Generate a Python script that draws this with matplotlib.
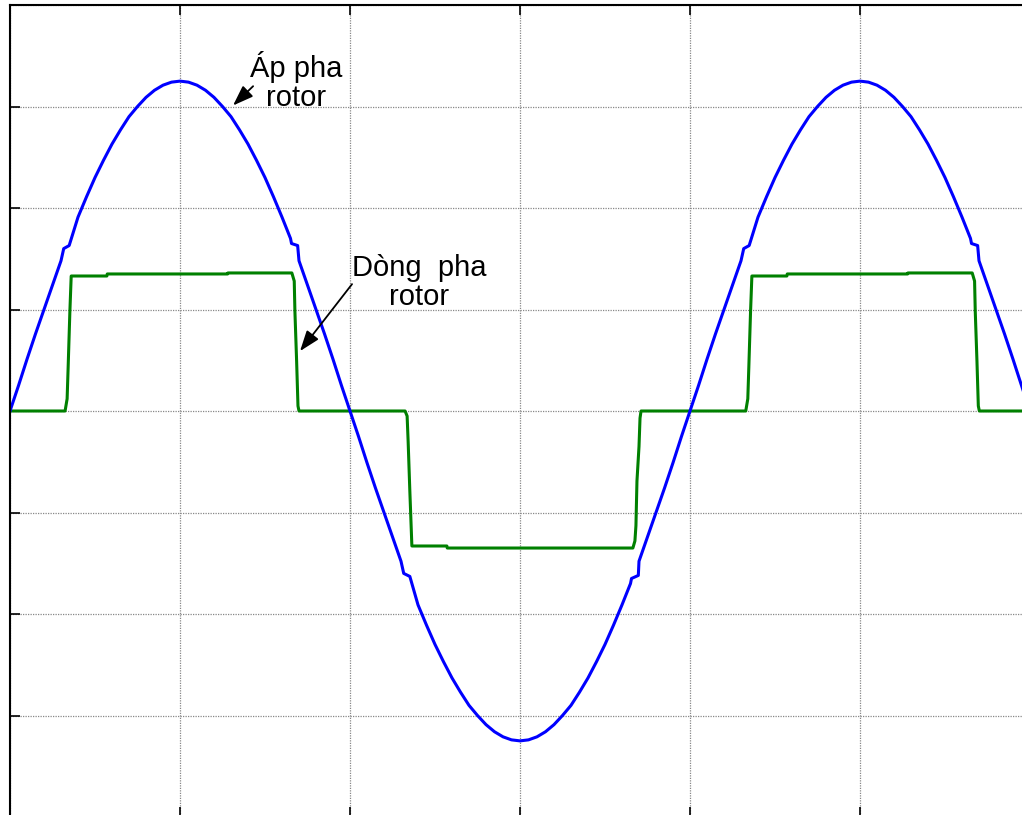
import matplotlib
matplotlib.use("Agg")
import matplotlib.pyplot as plt
from matplotlib.patches import ArrowStyle

# time in ms, values in grid divisions
blue_t = [0, 0.25, 0.5, 0.75, 1.0, 1.25, 1.5, 1.58, 1.74, 2.0, 2.25, 2.5, 2.75, 3.0, 3.25, 3.5,
          3.75, 4.0, 4.25, 4.5, 4.75, 5.0, 5.25, 5.5, 5.75, 6.0, 6.25, 6.5, 6.75, 7.0, 7.25,
          7.5, 7.75, 8.0, 8.25, 8.28, 8.46, 8.5, 8.75, 9.0, 9.25, 9.5, 9.75,
          10.0, 10.25, 10.5, 10.75, 11.0, 11.25, 11.5, 11.58, 11.76, 12.0, 12.25, 12.5, 12.75,
          13.0, 13.25, 13.5, 13.75, 14.0, 14.25, 14.5, 14.75, 15.0, 15.25, 15.5, 15.75, 16.0,
          16.25, 16.5, 16.75, 17.0, 17.25, 17.5, 17.75, 18.0, 18.25, 18.28, 18.48, 18.5, 18.75,
          19.0, 19.25, 19.5, 19.75,
          20.0, 20.25, 20.5, 20.75, 21.0, 21.25, 21.5, 21.58, 21.74, 22.0, 22.25, 22.5, 22.75,
          23.0, 23.25, 23.5, 23.75, 24.0, 24.25, 24.5, 24.75, 25.0, 25.25, 25.5, 25.75, 26.0,
          26.25, 26.5, 26.75, 27.0, 27.25, 27.5, 27.75, 28.0, 28.25, 28.28, 28.46, 28.5, 28.75,
          29.0, 29.25, 29.5, 29.75, 30.0]
blue_v = [0, 0.25, 0.51, 0.76, 1.00, 1.24, 1.48, 1.60, 1.63, 1.91, 2.11, 2.30, 2.47, 2.63, 2.77, 2.90,
          3.00, 3.09, 3.16, 3.21, 3.24, 3.25, 3.24, 3.21, 3.16, 3.09, 3.00, 2.90, 2.77, 2.63, 2.47,
          2.30, 2.11, 1.91, 1.70, 1.65, 1.63, 1.48, 1.24, 1.00, 0.76, 0.51, 0.25,
          0, -0.25, -0.51, -0.76, -1.00, -1.24, -1.48, -1.60, -1.63, -1.91, -2.11, -2.30, -2.47,
          -2.63, -2.77, -2.90, -3.00, -3.09, -3.16, -3.21, -3.24, -3.25, -3.24, -3.21, -3.16, -3.09,
          -3.00, -2.90, -2.77, -2.63, -2.47, -2.30, -2.11, -1.91, -1.70, -1.65, -1.62, -1.48, -1.24,
          -1.00, -0.76, -0.51, -0.25,
          0, 0.25, 0.51, 0.76, 1.00, 1.24, 1.48, 1.60, 1.63, 1.91, 2.11, 2.30, 2.47,
          2.63, 2.77, 2.90, 3.00, 3.09, 3.16, 3.21, 3.24, 3.25, 3.24, 3.21, 3.16, 3.09,
          3.00, 2.90, 2.77, 2.63, 2.47, 2.30, 2.11, 1.91, 1.70, 1.65, 1.63, 1.48, 1.24,
          1.00, 0.76, 0.51, 0.25, 0]

green_t = [0, 1.62, 1.68, 1.71, 1.76, 1.80, 2.85, 2.86, 6.4, 6.41, 8.29, 8.36, 8.38, 8.43, 8.47, 8.50,
           11.62, 11.68, 11.71, 11.76, 11.82, 12.85, 12.86, 18.32, 18.38, 18.41, 18.44, 18.50, 18.53, 18.56,
           21.64, 21.70, 21.73, 21.78, 21.82, 22.85, 22.86, 26.4, 26.41, 28.30, 28.37, 28.39, 28.44, 28.48, 28.51, 30]
green_v = [0, 0, 0.12, 0.43, 0.97, 1.33, 1.33, 1.35, 1.35, 1.36, 1.36, 1.28, 0.98, 0.49, 0.05, 0,
           0, -0.05, -0.30, -0.79, -1.33, -1.33, -1.35, -1.35, -1.28, -1.13, -0.69, -0.35, -0.07, 0,
           0, 0.12, 0.43, 0.97, 1.33, 1.33, 1.35, 1.35, 1.36, 1.36, 1.28, 0.98, 0.49, 0.05, 0, 0]

label_voltage = "Áp pha\nrotor"
label_current = "Dòng  pha\nrotor"

W, H = 1022, 815
fig = plt.figure(figsize=(W / 100, H / 100), dpi=100)
ax = fig.add_axes([10 / W, 1 - 817 / H, 1020 / W, 812 / H])

ax.plot(green_t, green_v, color=(0, 0.5, 0), lw=2.2, solid_joinstyle='round')
ax.plot(blue_t, blue_v, color=(0, 0, 1), lw=2.2, solid_joinstyle='round')

ax.set_xlim(0, 30)
ax.set_ylim(-4, 4)
ax.set_xticks([0, 5, 10, 15, 20, 25, 30])
ax.set_yticks([-4, -3, -2, -1, 0, 1, 2, 3, 4])
ax.tick_params(direction='in', length=7, width=1.2, top=True, right=False,
               labelbottom=False, labelleft=False)
ax.grid(True, color='#888888', linestyle=(0, (1, 1)), linewidth=0.9)
for s in ax.spines.values():
    s.set_linewidth(1.5)

font = dict(family=['Liberation Sans', 'DejaVu Sans'], fontsize=21)
astyle = ArrowStyle('-|>', head_length=0.5, head_width=0.18)
ax.text(8.42, 3.25, label_voltage, ha='center', va='center', multialignment='center',
        linespacing=1.05, **font)
ax.annotate('', xy=(6.56, 3.01), xytext=(7.15, 3.20),
            arrowprops=dict(arrowstyle=astyle, color='black', lw=1.3, mutation_scale=25,
                            shrinkA=0, shrinkB=0))
ax.text(12.03, 1.27, label_current, ha='center', va='center', multialignment='center',
        linespacing=1.05, **font)
ax.annotate('', xy=(8.53, 0.59), xytext=(10.06, 1.25),
            arrowprops=dict(arrowstyle=astyle, color='black', lw=1.3, mutation_scale=25,
                            shrinkA=0, shrinkB=0))

fig.savefig('out.png', dpi=100)
